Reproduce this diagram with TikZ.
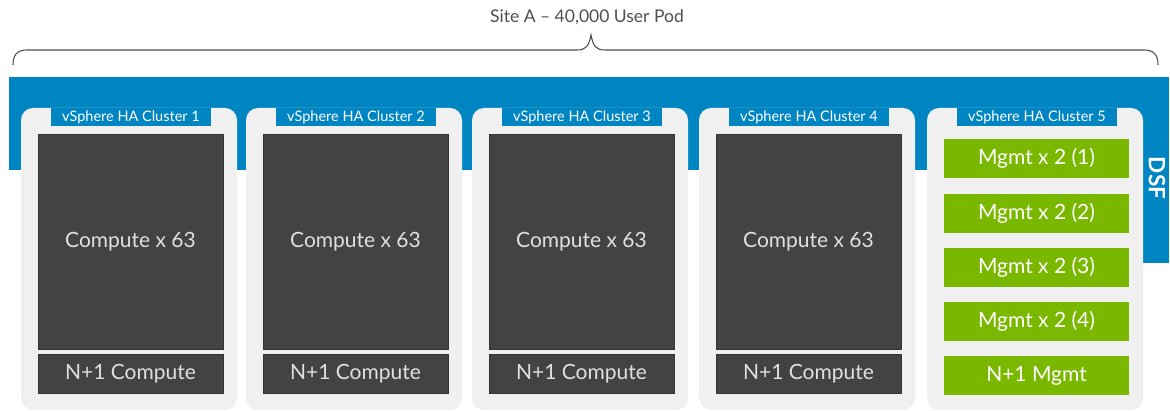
\documentclass[tikz,border=0pt]{standalone}
\definecolor{bleudsf}{RGB}{0,133,195}
\definecolor{vertmgmt}{RGB}{122,184,0}
\definecolor{grisfonce}{RGB}{67,67,67}
\definecolor{grisclair}{RGB}{240,240,240}
\definecolor{gristexte}{RGB}{80,80,80}
\usepackage{fontspec}
\setmainfont{Lato}
\usepackage{tikz}
\usetikzlibrary{positioning}
\tikzset{
	grappe/.style={fill=grisclair,draw=none,rounded corners=12pt},
	onglet/.style={fill=bleudsf,draw=none},
	calcul/.style={fill=grisfonce,draw=black!80,line width=0.8pt},
	gestion/.style={fill=vertmgmt,draw=none},
	txtcalc/.style={text=white!88!black,font=\fontsize{21}{23}\selectfont},
	txtonglet/.style={text=white,font=\fontsize{14.5}{16}\selectfont}
}

\begin{document}
\begin{tikzpicture}[x=1pt,y=-1pt]
					\useasboundingbox (0,0) rectangle (1170,411);
					
					% accolade et titre
					\node[text=gristexte,font=\fontsize{17.5}{19}\selectfont] (titre) at (587,17) {Site A -- 40,000 User Pod};
					\draw[gristexte,line width=1.1pt](13,65) .. controls (13,55) and (17,50) .. (27,50) -- (577,50) .. controls (586,50) and (589,46) .. (591,35) .. controls (593,46) and (596,50) .. (605,50) -- (1144,50) .. controls (1154,50) and (1158,55) .. (1158,65);
					
					% bande DSF
					\fill[bleudsf](9,77) rectangle (1169,170);
					\fill[bleudsf](1143,77) rectangle (1169,263);
					\node[text=white,font=\bfseries\fontsize{22.5}{24}\selectfont,rotate=-90] (dsf) at (1157,178) {DSF};
					
					% cluster 1
					\draw[grappe](21,108) rectangle (237,410);
					\draw[onglet](51,108) rectangle (211,126) node[midway,txtonglet] (t1) {vSphere HA Cluster 1};
					\draw[calcul](38,134) rectangle (223,349) node[midway,txtcalc] (c1) {Compute x 63};
					\draw[calcul](38,354) rectangle (223,393) node[midway,txtcalc] (n1) {N+1 Compute};
					
					% cluster 2
					\draw[grappe](246,108) rectangle (462,410);
					\draw[onglet](276,108) rectangle (436,126) node[midway,txtonglet] (t2) {vSphere HA Cluster 2};
					\draw[calcul](263,134) rectangle (448,349) node[midway,txtcalc] (c2) {Compute x 63};
					\draw[calcul](263,354) rectangle (448,393) node[midway,txtcalc] (n2) {N+1 Compute};
					
					% cluster 3
					\draw[grappe](472,108) rectangle (688,410);
					\draw[onglet](502,108) rectangle (662,126) node[midway,txtonglet] (t3) {vSphere HA Cluster 3};
					\draw[calcul](489,134) rectangle (674,349) node[midway,txtcalc] (c3) {Compute x 63};
					\draw[calcul](489,354) rectangle (674,393) node[midway,txtcalc] (n3) {N+1 Compute};
					
					% cluster 4
					\draw[grappe](699,108) rectangle (915,410);
					\draw[onglet](729,108) rectangle (889,126) node[midway,txtonglet] (t4) {vSphere HA Cluster 4};
					\draw[calcul](716,134) rectangle (901,349) node[midway,txtcalc] (c4) {Compute x 63};
					\draw[calcul](716,354) rectangle (901,393) node[midway,txtcalc] (n4) {N+1 Compute};
					
					% cluster 5 (gestion)
					\draw[grappe](927,108) rectangle (1143,410);
					\draw[onglet](957,108) rectangle (1117,126) node[midway,txtonglet] (t5) {vSphere HA Cluster 5};
					\draw[gestion](944,139) rectangle (1129,178) node[midway,txtcalc,text=white] (m1) {Mgmt x 2 (1)};
					\draw[gestion](944,194) rectangle (1129,233) node[midway,txtcalc,text=white] (m2) {Mgmt x 2 (2)};
					\draw[gestion](944,248) rectangle (1129,287) node[midway,txtcalc,text=white] (m3) {Mgmt x 2 (3)};
					\draw[gestion](944,302) rectangle (1129,341) node[midway,txtcalc,text=white] (m4) {Mgmt x 2 (4)};
					\draw[gestion](944,356) rectangle (1129,395) node[midway,txtcalc,text=white] (m5) {N+1 Mgmt};
				\end{tikzpicture}
\end{document}
